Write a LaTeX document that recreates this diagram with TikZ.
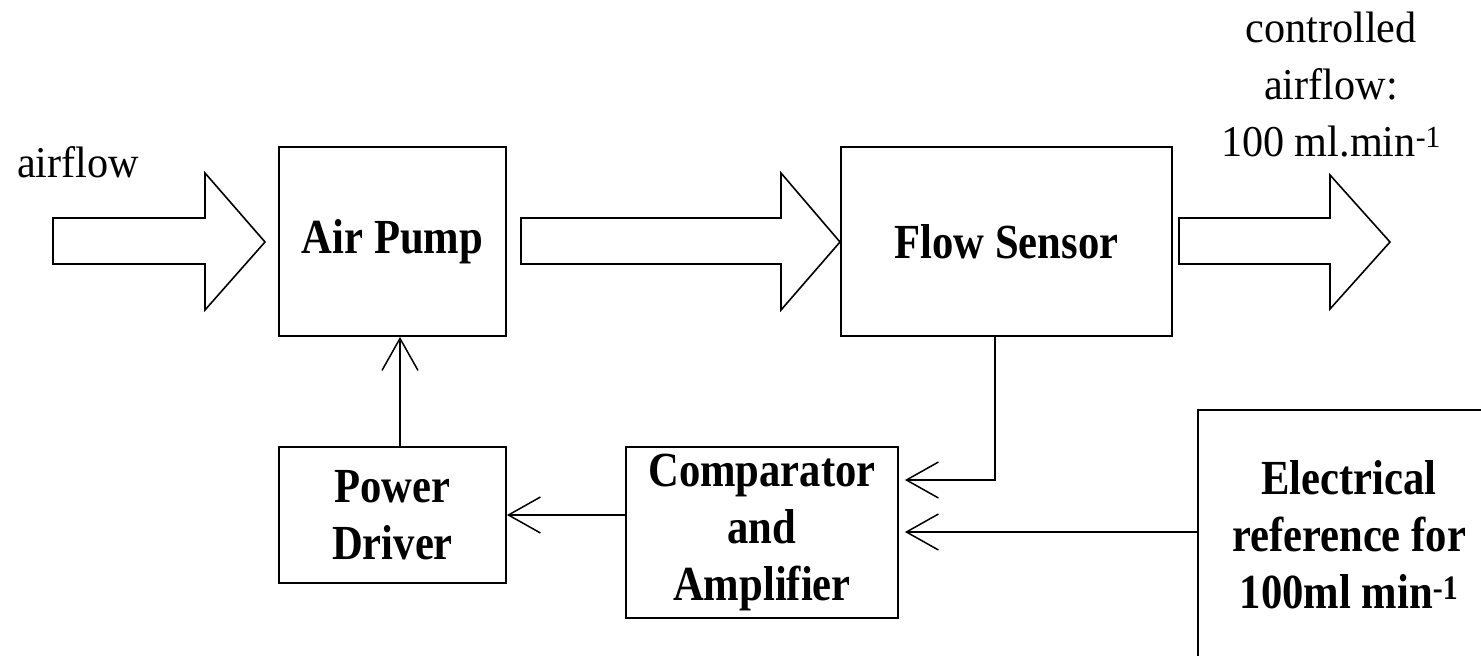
\documentclass[tikz,border=0pt]{standalone}
\usepackage{fontspec}
\setmainfont{Liberation Serif}
\newfontfamily\condreg{Liberation Serif}[FakeStretch=0.96]
\newfontfamily\condbold{Liberation Serif Bold}[FakeStretch=0.87]
\usetikzlibrary{arrows.meta}
\tikzset{
  blk/.style={draw, line width=1.8pt, rectangle, inner sep=0pt, align=center,
    font=\condbold\fontsize{49}{57}\selectfont},
  lbl/.style={inner sep=0pt, align=center, font=\condreg\fontsize{44}{57}\selectfont},
  conn/.style={draw, line width=1.5pt, -{Straight Barb[length=32pt,width=36pt,line width=1.5pt]}},
  fat/.style={draw, line width=1.6pt, line join=miter, fill=white}
}
\begin{document}
\begin{tikzpicture}[x=1pt,y=-1pt]
\useasboundingbox (0,0) rectangle (1481,656);
% boxes
\node[blk, minimum width=227pt, minimum height=189pt] (ap) at (392.5,241.5) {Air Pump};
\node[blk, minimum width=331pt, minimum height=189pt] (fs) at (1006.5,241.5) {Flow Sensor};
\node[blk, minimum width=227pt, minimum height=136pt] (pd) at (392.5,515) {Power\\Driver};
\node[blk, minimum width=272pt, minimum height=171pt] (cmp) at (762,532.5) {Comparator\\and\\Amplifier};
\node[blk, minimum width=302pt, minimum height=250pt] (ref) at (1349,535) {Electrical\\reference for\\100ml min\textsuperscript{-1}};
% labels
\node[lbl, anchor=base west] (inlbl) at (17,177) {airflow};
\node[lbl, anchor=south] (outlbl) at (1331,157) {controlled\\airflow:\\100 ml.min\textsuperscript{-1}};
% block arrows
\draw[fat] (53,218) -- (205,218) -- (205,173) -- (265,242) -- (205,310) -- (205,264) -- (53,264) -- cycle;
\draw[fat] (521,218) -- (781,218) -- (781,173) -- (840,242) -- (781,310) -- (781,264) -- (521,264) -- cycle;
\draw[fat] (1179,218) -- (1330,218) -- (1330,175) -- (1390,242) -- (1330,309) -- (1330,264) -- (1179,264) -- cycle;
% connectors
\draw[conn] ([xshift=7.5pt]pd.north) -- ([xshift=7.5pt]ap.south);
\draw[conn, shorten >=6pt] ([xshift=-11.5pt]fs.south) |- ([yshift=52.5pt]cmp.east);
\draw[conn, shorten >=6pt] ([yshift=3pt]ref.west) -- ([yshift=3pt]ref.west -| cmp.east);
\draw[conn] (cmp.west |- pd.east) -- (pd.east);
\end{tikzpicture}
\end{document}
